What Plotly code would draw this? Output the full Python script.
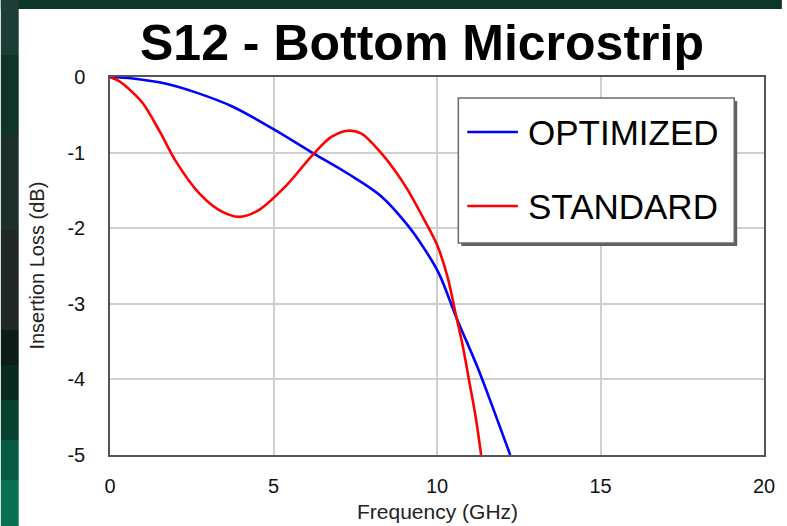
import plotly.graph_objects as go

# ---- data ----
opt_freq = [0, 0.7, 1.72, 2.73, 3.74, 4.96, 6.22, 7.28, 8.3, 9.1, 9.61, 10.06, 10.6, 11.23, 11.73, 12.24]
opt_db = [0, -0.02, -0.09, -0.22, -0.39, -0.68, -1.01, -1.28, -1.58, -1.96, -2.27, -2.6, -3.19, -3.83, -4.4, -5.0]

std_freq = [0, 0.3, 0.61, 1.01, 1.52, 2.02, 2.73, 3.34, 3.95, 4.55, 5.36, 6.22, 6.78, 7.28, 7.69, 8.3, 8.7, 9.1, 9.61, 10.0, 10.32, 10.6, 10.77, 10.98, 11.18, 11.35]
std_db = [0, -0.06, -0.17, -0.35, -0.72, -1.12, -1.54, -1.76, -1.85, -1.76, -1.45, -1.02, -0.79, -0.71, -0.75, -1.01, -1.23, -1.49, -1.89, -2.22, -2.64, -3.19, -3.52, -4.01, -4.49, -5.0]

series_names = ["OPTIMIZED", "STANDARD"]
series_colors = ["#0000ff", "#ff0000"]

x_ticks = [0, 5, 10, 15, 20]
y_ticks = [0, -1, -2, -3, -4, -5]

title_text = "S12 - Bottom Microstrip"
x_title = "Frequency (GHz)"
y_title = "Insertion Loss (dB)"

# ---- layout geometry ----
W, H = 787, 526
L, R, T, B = 110, 769, 77, 455


def px(x):
    return (x - L) / (R - L)


def py(y):
    return (B - y) / (B - T)


fig = go.Figure()
fig.add_trace(go.Scatter(x=opt_freq, y=opt_db, mode="lines", name=series_names[0],
                         line=dict(color=series_colors[0], width=2.6, shape="spline", smoothing=1.0)))
fig.add_trace(go.Scatter(x=std_freq, y=std_db, mode="lines", name=series_names[1],
                         line=dict(color=series_colors[1], width=2.6, shape="spline", smoothing=0.9)))

font_family = "Liberation Sans, Arial, sans-serif"

shapes = []
# green background strips (top and left)
shapes.append(dict(type="rect", xref="paper", yref="paper", x0=px(0), x1=px(W), y0=py(9), y1=py(0),
                   fillcolor="#0b3629", line=dict(width=0), layer="below"))
strips = [(0, 55, "#1d3e36"), (55, 135, "#0f3428"), (135, 230, "#1e302b"), (230, 330, "#212926"),
          (330, 365, "#0c1c16"), (365, 400, "#082a20"), (400, 440, "#06402f"), (440, 480, "#075a43"),
          (480, 526, "#087152")]
for y0, y1, c in strips:
    shapes.append(dict(type="rect", xref="paper", yref="paper", x0=px(0), x1=px(18), y0=py(y1), y1=py(y0),
                       fillcolor=c, line=dict(width=0), layer="below"))

# legend box with shadow
shapes.append(dict(type="rect", xref="paper", yref="paper", x0=px(464), x1=px(742), y0=py(246), y1=py(101),
                   fillcolor="#606060", line=dict(width=0), layer="above"))
shapes.append(dict(type="rect", xref="paper", yref="paper", x0=px(461), x1=px(739), y0=py(243), y1=py(98),
                   fillcolor="white", line=dict(color="#6a6a6a", width=1.5), layer="above"))
legend_y = [132, 206]
for yy, c in zip(legend_y, series_colors):
    shapes.append(dict(type="line", xref="paper", yref="paper", x0=px(470), x1=px(521), y0=py(yy), y1=py(yy),
                       line=dict(color=c, width=2.6), layer="above"))

annotations = []
for yy, name in zip(legend_y, series_names):
    annotations.append(dict(xref="paper", yref="paper", x=px(529), y=py(yy), text=name, showarrow=False,
                            xanchor="left", yanchor="middle", font=dict(family=font_family, size=35, color="black")))

annotations.append(dict(xref="paper", yref="paper", x=px(424), y=py(43), text="<b>" + title_text + "</b>",
                        showarrow=False, xanchor="center", yanchor="middle",
                        font=dict(family=font_family, size=50, color="black")))
annotations.append(dict(xref="paper", yref="paper", x=px(440), y=py(512), text=x_title, showarrow=False,
                        xanchor="center", yanchor="middle", font=dict(family=font_family, size=21, color="#222")))
annotations.append(dict(xref="paper", yref="paper", x=px(36), y=py(266), text=y_title, showarrow=False,
                        textangle=-90, xanchor="center", yanchor="middle",
                        font=dict(family=font_family, size=20, color="#222")))

fig.update_layout(
    width=W, height=H,
    margin=dict(l=L, r=W - R, t=T, b=H - B, pad=0),
    paper_bgcolor="white", plot_bgcolor="white",
    showlegend=False,
    shapes=shapes, annotations=annotations,
    font=dict(family=font_family, size=20, color="#111"),
)
fig.update_xaxes(range=[0, 20], tickvals=x_ticks, ticktext=[str(v) for v in x_ticks], ticks="",
                 ticklabelstandoff=12, showgrid=True, gridcolor="#cfcfcf", gridwidth=1.5,
                 showline=True, linecolor="#555555", linewidth=1.5, mirror=True, zeroline=False,
                 tickfont=dict(size=20, color="#111"))
fig.update_yaxes(range=[-5, 0], tickvals=y_ticks, ticktext=[str(v) for v in y_ticks], ticks="",
                 ticklabelstandoff=19, showgrid=True, gridcolor="#cfcfcf", gridwidth=1.5,
                 showline=True, linecolor="#555555", linewidth=1.5, mirror=True, zeroline=False,
                 tickfont=dict(size=20, color="#111"))

fig.write_html("out.html")
